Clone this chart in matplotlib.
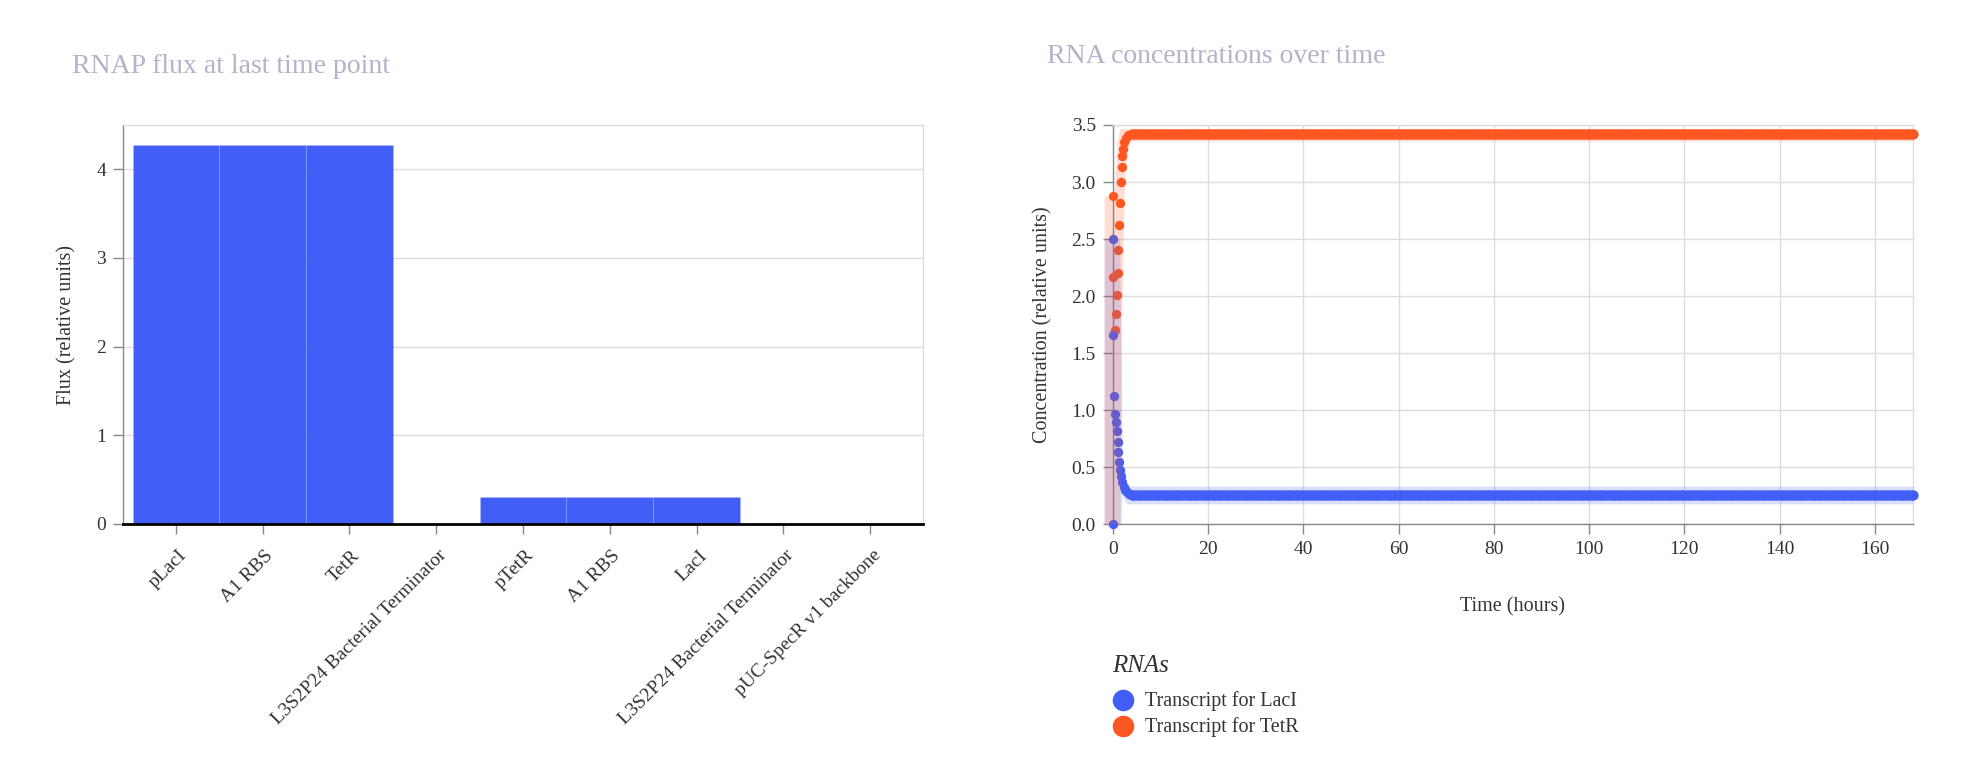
import numpy as np
import matplotlib
matplotlib.use("Agg")
import matplotlib.pyplot as plt
import matplotlib.transforms as mtrans
from matplotlib.lines import Line2D

plt.rcParams['font.family'] = ['Liberation Serif', 'DejaVu Serif']

W, H = 1972, 782
BLUE = "#415ff7"
ORANGE = "#ff5722"
TITLE_C = "#b1b4ca"
TXT = "#333333"
AX_C = "#888888"
GRID_C = "#dddddd"

# ---- left: RNAP flux per part ----
PARTS = ["pLacI", "A1 RBS", "TetR", "L3S2P24 Bacterial Terminator",
         "pTetR", "A1 RBS", "LacI", "L3S2P24 Bacterial Terminator",
         "pUC-SpecR v1 backbone"]
FLUX = [4.27, 4.27, 4.27, 0.0, 0.31, 0.31, 0.31, 0.0, 0.0]

# ---- right: RNA concentrations (time in hours) ----
LACI_T = [0, 0, 0.13, 0.34, 0.48, 0.63, 0.84, 1.05, 1.18, 1.32, 1.53, 1.74,
          2.0, 2.3, 2.6, 3.0, 3.5]
LACI_Y = [2.50, 0.0, 1.66, 1.125, 0.97, 0.90, 0.82, 0.72, 0.63, 0.55, 0.48,
          0.42, 0.37, 0.33, 0.30, 0.28, 0.265]
TETR_T = [0, 0.13, 0.48, 0.69, 0.84, 1.18, 1.18, 1.32, 1.53, 1.68, 1.89,
          2.0, 2.1, 2.4, 2.8, 3.3]
TETR_Y = [2.88, 2.17, 1.70, 1.84, 2.01, 2.20, 2.40, 2.62, 2.82, 3.00, 3.13,
          3.23, 3.29, 3.35, 3.39, 3.41]
PLATEAU_T = np.arange(4.0, 168.01, 0.5)
LACI_PLATEAU = 0.257
TETR_PLATEAU = 3.42

# spread bands (lo / hi)
LACI_BAND_T = [-1.8, 1.5, 1.7, 2.0, 2.5, 3.0, 4.0, 168]
LACI_BAND_LO = [0.0, 0.0, 0.0, 0.27, 0.2, 0.18, 0.18, 0.18]
LACI_BAND_HI = [2.5, 2.5, 1.5, 0.6, 0.38, 0.34, 0.335, 0.335]
TETR_BAND_T = [-1.8, 0.3, 0.9, 1.5, 1.9, 2.5, 3.5, 168]
TETR_BAND_LO = [0.0, 0.0, 0.0, 0.0, 1.8, 3.1, 3.36, 3.36]
TETR_BAND_HI = [2.88, 2.88, 3.35, 3.47, 3.47, 3.47, 3.47, 3.47]

LEG_TITLE = "RNAs"
LEG_LABELS = ["Transcript for LacI", "Transcript for TetR"]
LEG_COLORS = [BLUE, ORANGE]


def style_axis(ax):
    ax.tick_params(colors=AX_C, labelcolor=TXT, length=7.2, width=1,
                   labelsize=14, pad=5)
    for s in ("left", "bottom"):
        ax.spines[s].set_color(AX_C)
        ax.spines[s].set_linewidth(1)
    for s in ("top", "right"):
        ax.spines[s].set_color(GRID_C)
        ax.spines[s].set_linewidth(1)
    ax.set_axisbelow(True)


fig = plt.figure(figsize=(W / 100, H / 100), dpi=100)

# ---------------- left bar chart ----------------
axL = fig.add_axes([123 / W, 1 - 524 / H, 800 / W, 399 / H])
x = np.arange(len(PARTS))
axL.bar(x, FLUX, width=1.0, color=BLUE, edgecolor=(1, 1, 1, 0.12), lw=0.5)
axL.set_xlim(-0.61, len(PARTS) - 0.39)
axL.set_ylim(0, 4.5)
axL.set_yticks([0, 1, 2, 3, 4])
axL.yaxis.grid(True, color=GRID_C, lw=1)
style_axis(axL)
axL.spines["bottom"].set_color("black")
axL.spines["bottom"].set_linewidth(2)
axL.set_xticks(x)
axL.set_xticklabels(PARTS, rotation=45, ha="right", va="center",
                    rotation_mode="anchor", fontsize=14)
off = mtrans.ScaledTranslation(8 / 100, -12 / 100, fig.dpi_scale_trans)
for lab in axL.get_xticklabels():
    lab.set_transform(lab.get_transform() + off)
axL.set_ylabel("Flux (relative units)", fontsize=14.5, color=TXT)
axL.yaxis.set_label_coords(76 / W, 1 - 325 / H, transform=fig.transFigure)

fig.text(72 / W, 1 - 73 / H, "RNAP flux at last time point", fontsize=20,
         color=TITLE_C, va="baseline", ha="left")

# ---------------- right scatter ----------------
axR = fig.add_axes([1112.7 / W, 1 - 524.3 / H, 800.3 / W, 399.3 / H])
axR.scatter(TETR_T, TETR_Y, s=45, color=ORANGE, lw=0, zorder=3, clip_on=False)
axR.scatter(PLATEAU_T, [TETR_PLATEAU] * len(PLATEAU_T), s=55, color=ORANGE,
            lw=0, zorder=3, clip_on=False)
axR.fill_between(LACI_BAND_T, LACI_BAND_LO, LACI_BAND_HI, color=BLUE,
                 alpha=0.2, lw=0, zorder=4, clip_on=False)
axR.scatter(LACI_T, LACI_Y, s=45, color=BLUE, lw=0, zorder=5, clip_on=False)
axR.scatter(PLATEAU_T, [LACI_PLATEAU] * len(PLATEAU_T), s=55, color=BLUE,
            lw=0, zorder=5, clip_on=False)
axR.fill_between(TETR_BAND_T, TETR_BAND_LO, TETR_BAND_HI, color=ORANGE,
                 alpha=0.2, lw=0, zorder=6, clip_on=False)
axR.set_xlim(0, 168)
axR.set_ylim(0, 3.5)
axR.set_xticks(np.arange(0, 161, 20))
axR.set_yticks(np.arange(0, 3.51, 0.5))
axR.yaxis.set_major_formatter(matplotlib.ticker.FormatStrFormatter("%.1f"))
axR.grid(True, color=GRID_C, lw=1)
style_axis(axR)
axR.set_xlabel("Time (hours)", fontsize=14.5, color=TXT)
axR.xaxis.set_label_coords(1512 / W, 1 - 597 / H, transform=fig.transFigure)
axR.set_ylabel("Concentration (relative units)", fontsize=14.5, color=TXT)
axR.yaxis.set_label_coords(1052 / W, 1 - 325 / H, transform=fig.transFigure)

fig.text(1047 / W, 1 - 63 / H, "RNA concentrations over time", fontsize=20,
         color=TITLE_C, va="baseline", ha="left")

# ---------------- legend (drawn by hand) ----------------
fig.text(1112 / W, 1 - 672 / H, LEG_TITLE, fontsize=18, style="italic",
         color=TXT, va="baseline", ha="left")
for i, (lab, col) in enumerate(zip(LEG_LABELS, LEG_COLORS)):
    yc = 700 + 26 * i
    fig.add_artist(Line2D([1123.3 / W], [1 - yc / H], marker="o", ls="",
                          color=col, markersize=14.5,
                          transform=fig.transFigure))
    fig.text(1145 / W, 1 - (yc + 6) / H, lab, fontsize=14.5, color=TXT,
             va="baseline", ha="left")

fig.savefig("out.png", dpi=100)
